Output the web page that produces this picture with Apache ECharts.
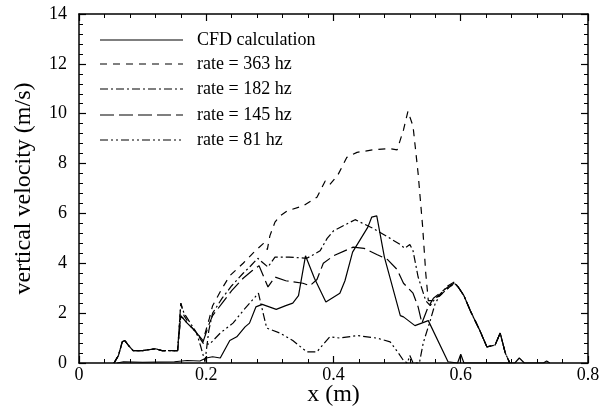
<!DOCTYPE html>
<html>
<head>
<meta charset="utf-8">
<script src="https://cdn.jsdelivr.net/npm/echarts@6/dist/echarts.min.js"></script>
<style>html,body{margin:0;padding:0;background:#fff}#c{width:605px;height:410px}</style>
</head>
<body>
<div id="c"></div>
<script>
var seriesNames = ["CFD calculation", "rate = 363 hz", "rate = 182 hz", "rate = 145 hz", "rate = 81 hz"];
var xTicks = [0, 0.2, 0.4, 0.6, 0.8];
var yTicks = [0, 2, 4, 6, 8, 10, 12, 14];

var cfd = [[0.06,0],[0.07,0.05],[0.1,0.03],[0.15,0.05],[0.17,0.1],[0.19,0.08],[0.2,0.2],[0.21,0.25],[0.222,0.2],
  [0.237,0.9],[0.248,1.05],[0.261,1.45],[0.268,1.6],[0.278,2.25],[0.288,2.35],[0.31,2.15],[0.325,2.3],[0.336,2.4],
  [0.345,2.7],[0.356,4.3],[0.37,3.4],[0.388,2.45],[0.41,2.8],[0.418,3.3],[0.43,4.45],[0.454,5.45],[0.46,5.85],
  [0.468,5.9],[0.48,4.25],[0.505,1.9],[0.51,1.85],[0.528,1.5],[0.549,1.7],[0.58,0.05],[0.595,0],[0.6,0.35],
  [0.605,0],[0.685,0],[0.692,0.2],[0.7,0],[0.73,0],[0.735,0.08],[0.74,0]];

var r363 = [[0.055,0],[0.062,0.3],[0.068,0.85],[0.072,0.9],[0.078,0.7],[0.085,0.5],[0.1,0.5],[0.12,0.57],[0.13,0.5],
  [0.155,0.5],[0.16,2.4],[0.165,1.9],[0.175,1.5],[0.185,1.2],[0.195,0.9],[0.205,1.8],[0.21,2.3],[0.225,3.0],
  [0.237,3.5],[0.258,4.0],[0.277,4.5],[0.29,4.8],[0.296,4.55],[0.3,5.1],[0.308,5.65],[0.316,5.9],[0.327,6.1],
  [0.352,6.3],[0.374,6.65],[0.387,7.3],[0.394,7.15],[0.407,7.55],[0.421,8.25],[0.437,8.45],[0.462,8.55],
  [0.489,8.6],[0.5,8.55],[0.51,9.35],[0.517,10.1],[0.525,9.5],[0.533,7.6],[0.54,5.5],[0.545,3.6],[0.549,2.5],
  [0.555,2.5],[0.567,2.7],[0.58,3.0],[0.59,3.2],[0.596,3.05],[0.605,2.7],[0.615,2.1],[0.63,1.3],[0.641,0.65],
  [0.654,0.72],[0.662,1.2],[0.67,0.4],[0.677,0]];

var r182 = [[0.055,0],[0.062,0.3],[0.068,0.85],[0.072,0.9],[0.078,0.7],[0.085,0.5],[0.1,0.5],[0.12,0.57],[0.13,0.5],
  [0.155,0.5],[0.16,2.4],[0.165,2.0],[0.175,1.6],[0.185,1.2],[0.192,0.6],[0.198,0.05],[0.204,1.3],[0.21,2.0],
  [0.225,2.6],[0.24,3.1],[0.258,3.6],[0.27,3.9],[0.281,4.2],[0.29,4.0],[0.297,3.85],[0.308,4.25],[0.33,4.25],
  [0.358,4.2],[0.379,4.5],[0.39,5.0],[0.4,5.3],[0.434,5.75],[0.462,5.4],[0.489,5.0],[0.505,4.75],[0.512,4.6],
  [0.52,4.75],[0.525,4.5],[0.533,3.45],[0.545,2.5],[0.552,2.3],[0.56,2.6],[0.567,2.75],[0.58,3.1],[0.59,3.25],
  [0.596,3.05],[0.605,2.7],[0.615,2.1],[0.63,1.3],[0.641,0.65],[0.654,0.72],[0.662,1.2],[0.67,0.4],[0.677,0]];

var r145 = [[0.055,0],[0.062,0.3],[0.068,0.85],[0.072,0.9],[0.078,0.7],[0.085,0.5],[0.1,0.5],[0.12,0.57],[0.13,0.5],
  [0.155,0.5],[0.16,1.9],[0.17,1.6],[0.18,1.35],[0.19,1.05],[0.195,0.85],[0.205,1.6],[0.21,1.9],[0.225,2.4],
  [0.24,2.9],[0.258,3.4],[0.272,3.7],[0.283,3.9],[0.297,3.05],[0.308,3.45],[0.325,3.3],[0.352,3.2],[0.363,3.1],
  [0.374,3.35],[0.384,4.0],[0.4,4.3],[0.431,4.65],[0.448,4.6],[0.468,4.35],[0.485,4.15],[0.5,3.75],[0.51,3.2],
  [0.525,2.8],[0.533,2.25],[0.539,1.6],[0.548,2.2],[0.557,2.6],[0.567,2.8],[0.58,3.05],[0.59,3.2],[0.596,3.05],
  [0.605,2.7],[0.615,2.1],[0.63,1.3],[0.641,0.65],[0.654,0.72],[0.662,1.2],[0.67,0.4],[0.677,0]];

var r81 = [[0.055,0],[0.062,0.3],[0.068,0.85],[0.072,0.9],[0.078,0.7],[0.085,0.5],[0.1,0.5],[0.12,0.57],[0.13,0.5],
  [0.155,0.5],[0.16,1.9],[0.17,1.6],[0.18,1.35],[0.19,1.0],[0.195,0.8],[0.205,0.75],[0.222,1.2],[0.242,1.6],
  [0.258,2.1],[0.277,2.65],[0.282,2.8],[0.295,1.4],[0.316,1.2],[0.336,0.9],[0.358,0.45],[0.374,0.45],[0.394,1.05],
  [0.41,1.0],[0.437,1.1],[0.468,1.0],[0.489,0.85],[0.502,0.4],[0.51,0.1],[0.516,0],[0.52,0.3],[0.525,0],[0.535,0],
  [0.541,0.8],[0.552,1.7],[0.56,2.4],[0.567,2.7],[0.58,3.0],[0.59,3.2],[0.596,3.05],[0.605,2.7],[0.615,2.1],
  [0.63,1.3],[0.641,0.65],[0.654,0.72],[0.662,1.2],[0.67,0.4],[0.677,0]];

var seriesData = [cfd, r363, r182, r145, r81];
var dashTypes = ["solid", [7,6], [8,3,2,3], [14,5], [8,3,2,3,2,3]];

var FONT = "Liberation Serif";
var chart = echarts.init(document.getElementById('c'), null, {renderer: 'canvas'});

function fmt(v){ return String(Math.round(v*10)/10); }

var series = seriesData.map(function(d, i){
  return {
    name: seriesNames[i], type: 'line', data: d, showSymbol: false, symbol: 'none',
    lineStyle: {color: '#000', width: 1.2, type: dashTypes[i]},
    itemStyle: {color: '#000'},
    animation: false, z: 5
  };
});

// legend drawn as graphic elements (line sample + label)
var legendGraphics = [];
var legendRowY = [40, 64, 89, 115, 140];
seriesNames.forEach(function(name, i){
  var dash = dashTypes[i] === 'solid' ? null : dashTypes[i];
  legendGraphics.push({
    type: 'line', silent: true, z: 10,
    shape: {x1: 100, y1: legendRowY[i], x2: 183, y2: legendRowY[i]},
    style: {stroke: '#000', lineWidth: 1.2, lineDash: dash}
  });
  legendGraphics.push({
    type: 'text', silent: true, z: 10, x: 197, y: legendRowY[i],
    style: {text: name, fill: '#000', font: '18px "Liberation Serif"', textVerticalAlign: 'middle', verticalAlign: 'middle'}
  });
});

var option = {
  backgroundColor: '#fff',
  animation: false,
  grid: {left: 79, right: 17, top: 14, bottom: 47, containLabel: false, outerBoundsMode: 'none'},
  graphic: legendGraphics,
  xAxis: [{
    type: 'value', min: 0, max: 0.8, interval: 0.2, position: 'bottom',
    name: 'x (m)', nameLocation: 'middle', nameGap: 20, nameMoveOverlap: false,
    nameTextStyle: {fontFamily: FONT, fontSize: 24, color: '#000'},
    axisLine: {show: true, onZero: false, lineStyle: {color: '#000', width: 1.5}},
    axisTick: {inside: true, length: 7, lineStyle: {color: '#000', width: 1.2}},
    minorTick: {show: true, splitNumber: 5, length: 4, lineStyle: {color: '#000', width: 1}},
    axisLabel: {fontFamily: FONT, fontSize: 18, color: '#000', margin: 3, formatter: fmt},
    splitLine: {show: false}
  }, {
    type: 'value', min: 0, max: 0.8, interval: 0.2, position: 'top',
    axisLine: {show: true, onZero: false, lineStyle: {color: '#000', width: 1.5}},
    axisTick: {inside: true, length: 7, lineStyle: {color: '#000', width: 1.2}},
    minorTick: {show: true, splitNumber: 5, length: 4, lineStyle: {color: '#000', width: 1}},
    axisLabel: {show: false}, splitLine: {show: false}
  }],
  yAxis: [{
    type: 'value', min: 0, max: 14, interval: 2, position: 'left',
    name: 'vertical velocity (m/s)', nameLocation: 'middle', nameGap: 43, nameMoveOverlap: false,
    nameTextStyle: {fontFamily: FONT, fontSize: 24, color: '#000'},
    axisLine: {show: true, onZero: false, lineStyle: {color: '#000', width: 1.5}},
    axisTick: {inside: true, length: 7, lineStyle: {color: '#000', width: 1.2}},
    minorTick: {show: true, splitNumber: 5, length: 4, lineStyle: {color: '#000', width: 1}},
    axisLabel: {fontFamily: FONT, fontSize: 18, color: '#000', margin: 12, formatter: fmt},
    splitLine: {show: false}
  }, {
    type: 'value', min: 0, max: 14, interval: 2, position: 'right',
    axisLine: {show: true, onZero: false, lineStyle: {color: '#000', width: 1.5}},
    axisTick: {inside: true, length: 7, lineStyle: {color: '#000', width: 1.2}},
    minorTick: {show: true, splitNumber: 5, length: 4, lineStyle: {color: '#000', width: 1}},
    axisLabel: {show: false}, splitLine: {show: false}
  }],
  series: series
};
chart.setOption(option);
</script>
</body>
</html>
